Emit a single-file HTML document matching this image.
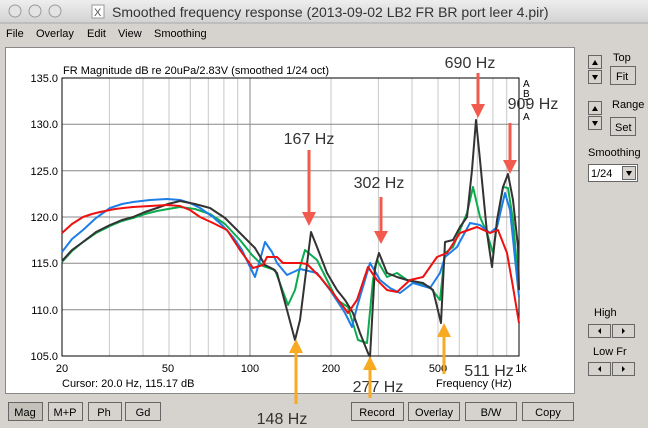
<!DOCTYPE html>
<html><head><meta charset="utf-8"><style>
body{margin:0;width:648px;height:428px;overflow:hidden;background:#d6d3ce;font-family:"Liberation Sans",sans-serif;}
svg{position:absolute;left:0;top:0}
</style></head><body>
<svg width="648" height="428" viewBox="0 0 648 428" xmlns="http://www.w3.org/2000/svg" font-family="Liberation Sans, sans-serif">
<defs><linearGradient id="tb" x1="0" y1="0" x2="0" y2="1"><stop offset="0" stop-color="#eeeeee"/><stop offset="1" stop-color="#d2d2d2"/></linearGradient></defs>
<rect x="0" y="0" width="648" height="23" fill="url(#tb)"/>
<line x1="0" y1="23" x2="648" y2="23" stroke="#a8a8a8"/>
<g fill="#e4e4e4" stroke="#9a9a9a"><circle cx="15" cy="11" r="6"/><circle cx="35" cy="11" r="6"/><circle cx="55" cy="11" r="6"/></g>
<rect x="92" y="5" width="12" height="13" fill="#fff" stroke="#999"/><text x="94" y="16" font-size="11" fill="#555">X</text>
<text x="112" y="17" font-size="14" fill="#333">Smoothed frequency response (2013-09-02 LB2 FR BR port leer 4.pir)</text>
<g font-size="11" fill="#000"><text x="6" y="37">File</text><text x="36" y="37">Overlay</text><text x="87" y="37">Edit</text><text x="118" y="37">View</text><text x="154" y="37">Smoothing</text></g>
<rect x="5.5" y="47.5" width="569" height="346" fill="#fff" stroke="#888"/>
<text x="63" y="74" font-size="11">FR Magnitude dB re 20uPa/2.83V (smoothed 1/24 oct)</text>
<g stroke="#c8c8c8" stroke-width="1">
<line x1="109.4" y1="78" x2="109.4" y2="356"/><line x1="143" y1="78" x2="143" y2="356"/><line x1="169" y1="78" x2="169" y2="356"/><line x1="190.3" y1="78" x2="190.3" y2="356"/><line x1="208.3" y1="78" x2="208.3" y2="356"/><line x1="223.9" y1="78" x2="223.9" y2="356"/><line x1="237.7" y1="78" x2="237.7" y2="356"/>
<line x1="331" y1="78" x2="331" y2="356"/><line x1="378.4" y1="78" x2="378.4" y2="356"/><line x1="412" y1="78" x2="412" y2="356"/><line x1="438" y1="78" x2="438" y2="356"/><line x1="459.3" y1="78" x2="459.3" y2="356"/><line x1="477.3" y1="78" x2="477.3" y2="356"/><line x1="492.9" y1="78" x2="492.9" y2="356"/><line x1="506.7" y1="78" x2="506.7" y2="356"/>
</g>
<line x1="250" y1="78" x2="250" y2="356" stroke="#888"/>
<g stroke="#888"><line x1="62" y1="124.3" x2="519" y2="124.3"/><line x1="62" y1="170.7" x2="519" y2="170.7"/><line x1="62" y1="217" x2="519" y2="217"/><line x1="62" y1="263.3" x2="519" y2="263.3"/><line x1="62" y1="309.7" x2="519" y2="309.7"/></g>
<rect x="62" y="78" width="457" height="278" fill="none" stroke="#000"/>
<g font-size="11" text-anchor="end"><text x="58" y="82">135.0</text><text x="58" y="128">130.0</text><text x="58" y="175">125.0</text><text x="58" y="221">120.0</text><text x="58" y="267">115.0</text><text x="58" y="314">110.0</text><text x="58" y="360">105.0</text></g>
<g font-size="11" text-anchor="middle"><text x="62" y="372">20</text><text x="168" y="372">50</text><text x="250" y="372">100</text><text x="331" y="372">200</text><text x="438" y="372">500</text><text x="521" y="372">1k</text></g>
<text x="62" y="387" font-size="11">Cursor: 20.0 Hz, 115.17 dB</text>
<text x="436" y="387" font-size="11">Frequency (Hz)</text>
<g font-size="10"><text x="523" y="87">A</text><text x="523" y="97">B</text><text x="524" y="106">T</text><text x="523" y="120">A</text></g>
<g fill="none" stroke-width="2" stroke-linejoin="round">
<polyline stroke="#0bab4e" points="62,262 72,251 83,242 96,233 110,226 122,221 133,218 145,214 157,211 168,209 180,207 195,209 210,214 225,224 240,240 252,255 263,266 275,270 288,305 295,290 300,267 305,250 317,260 327,280 337,300 348,307 358,340 367,343 373,280 377,260 387,277 397,273 407,280 430,287 440,300 445,253 453,247 460,230 467,213 473,187 480,217 487,233 493,253 498,217 503,187 508,188 513,220 519,290"/>
<polyline stroke="#1e7ee8" points="62,252 72,239 83,230 96,218 110,208 122,204 133,202 150,200 167,199 180,200 190,203 200,208 213,217 223,226 233,237 242,250 250,267 255,277 260,260 265,242 272,252 277,263 287,275 300,269 317,273 330,290 345,313 352,327 357,307 370,263 380,280 390,288 400,293 413,283 430,288 440,273 445,257 457,247 470,223 480,225 490,233 497,227 505,193 510,210 519,297"/>
<polyline stroke="#333" points="62,261 72,250 83,242 96,232 110,225 122,220 133,217 145,212 157,208 168,204 180,201 195,204 210,208 225,218 240,233 255,248 265,265 273,269 277,273 287,310 295,340 300,320 311,232 317,247 327,273 337,290 345,300 353,313 360,333 368,353 370,357 375,267 379,253 387,273 397,277 407,280 423,283 433,290 441,323 445,242 453,240 460,227 467,217 472,170 476,120 480,160 487,233 492,267 497,220 503,187 508,174 513,200 518,247 519,290"/>
<polyline stroke="#ee1111" points="62,233 72,224 83,217 92,214 100,212 115,209 133,207 150,206 167,205 180,206 190,210 200,217 213,223 227,230 240,250 253,268 263,265 267,257 277,257 283,263 300,263 307,264 320,277 333,293 348,313 357,300 368,267 377,280 387,290 397,292 410,280 423,277 437,257 447,253 460,233 477,227 490,233 498,230 507,253 513,287 519,323"/>
</g>
<g font-size="16" fill="#333" text-anchor="middle"><text x="309" y="144">167 Hz</text><text x="379" y="188">302 Hz</text><text x="470" y="68">690 Hz</text><text x="533" y="109">909 Hz</text><text x="378" y="392">277 Hz</text><text x="489" y="376">511 Hz</text><text x="282" y="424">148 Hz</text></g>
<g stroke="#f25a4e" stroke-width="3" fill="#f25a4e">
<line x1="309" y1="150" x2="309" y2="212"/><polygon points="302,212 316,212 309,226" stroke="none"/>
<line x1="381" y1="197" x2="381" y2="231"/><polygon points="374,231 388,231 381,244" stroke="none"/>
<line x1="478" y1="73" x2="478" y2="104"/><polygon points="471,104 485,104 478,118" stroke="none"/>
<line x1="510" y1="123" x2="510" y2="160"/><polygon points="503,160 517,160 510,174" stroke="none"/>
</g>
<g stroke="#f8aa22" stroke-width="3" fill="#f8aa22">
<line x1="296" y1="352" x2="296" y2="404"/><polygon points="289,353 303,353 296,339" stroke="none"/>
<line x1="370" y1="369" x2="370" y2="398"/><polygon points="363,370 377,370 370,356" stroke="none"/>
<line x1="444" y1="336" x2="444" y2="374"/><polygon points="437,337 451,337 444,323" stroke="none"/>
</g>
<g font-size="11" text-anchor="middle">
<rect x="8.5" y="402.5" width="34" height="18" fill="#c4c1bb" stroke="#666"/><text x="25" y="416">Mag</text>
<rect x="48.5" y="402.5" width="34" height="18" fill="#d6d3ce" stroke="#666"/><text x="65" y="416">M+P</text>
<rect x="88.5" y="402.5" width="33" height="18" fill="#d6d3ce" stroke="#666"/><text x="104" y="416">Ph</text>
<rect x="125.5" y="402.5" width="35" height="18" fill="#d6d3ce" stroke="#666"/><text x="143" y="416">Gd</text>
<rect x="351.5" y="402.5" width="52" height="18" fill="#d6d3ce" stroke="#666"/><text x="377" y="416">Record</text>
<rect x="408.5" y="402.5" width="51" height="18" fill="#d6d3ce" stroke="#666"/><text x="434" y="416">Overlay</text>
<rect x="465.5" y="402.5" width="51" height="18" fill="#d6d3ce" stroke="#666"/><text x="491" y="416">B/W</text>
<rect x="522.5" y="402.5" width="51" height="18" fill="#d6d3ce" stroke="#666"/><text x="548" y="416">Copy</text>
</g>
<g font-size="11" fill="#000">
<text x="613" y="61">Top</text><text x="612" y="108">Range</text><text x="588" y="156">Smoothing</text><text x="594" y="316">High</text><text x="593" y="355">Low Fr</text>
</g>
<g fill="#d6d3ce" stroke="#666">
<rect x="588.5" y="55.5" width="13" height="13"/><rect x="588.5" y="70.5" width="13" height="13"/>
<rect x="610.5" y="66.5" width="25" height="18"/>
<rect x="588.5" y="101.5" width="13" height="13"/><rect x="588.5" y="116.5" width="13" height="13"/>
<rect x="610.5" y="117.5" width="25" height="18"/>
<rect x="588.5" y="164.5" width="49" height="17" fill="#fff"/><rect x="622.5" y="166.5" width="13" height="13"/>
<rect x="588.5" y="324.5" width="22" height="13"/><rect x="612.5" y="324.5" width="22" height="13"/>
<rect x="588.5" y="362.5" width="22" height="13"/><rect x="612.5" y="362.5" width="22" height="13"/>
</g>
<g fill="#000">
<polygon points="592,65 598,65 595,60"/><polygon points="592,75 598,75 595,80"/>
<polygon points="592,111 598,111 595,106"/><polygon points="592,121 598,121 595,126"/>
<polygon points="626,171 632,171 629,176"/>
<polygon points="601,328 601,334 598,331"/><polygon points="622,328 622,334 625,331"/>
<polygon points="601,366 601,372 598,369"/><polygon points="622,366 622,372 625,369"/>
</g>
<g font-size="11"><text x="616" y="80">Fit</text><text x="615" y="131">Set</text><text x="591" y="177">1/24</text></g>
</svg>
</body></html>
